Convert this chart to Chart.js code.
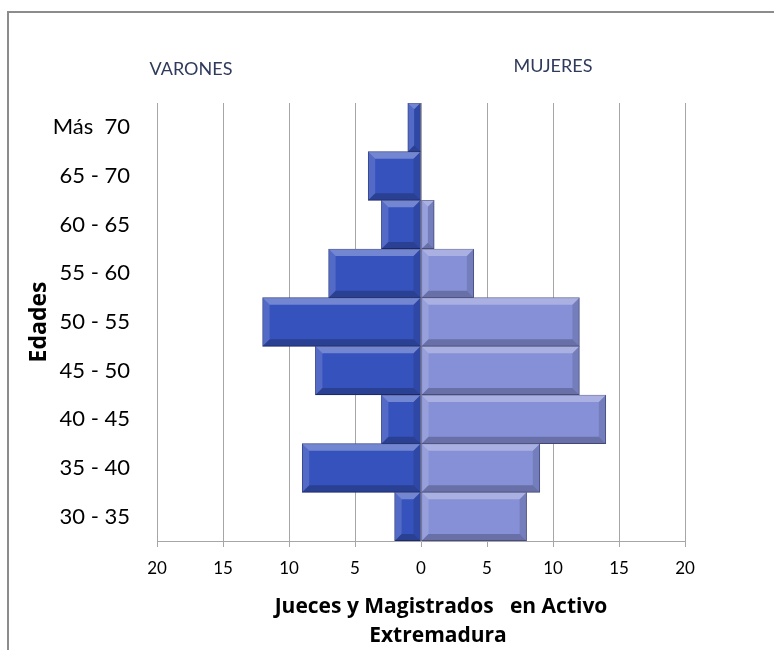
<!DOCTYPE html>
<html>
<head>
<meta charset="utf-8">
<script src="https://cdn.jsdelivr.net/npm/chart.js@4"></script>
<style>
  html, body { margin: 0; padding: 0; background: #fff; }
  #wrap { width: 774px; height: 650px; }
</style>
</head>
<body>
<div id="wrap"><canvas id="pyramid"></canvas></div>
<script>
// age groups, top to bottom
const ageGroups = ['Más  70', '65 - 70', '60 - 65', '55 - 60', '50 - 55', '45 - 50', '40 - 45', '35 - 40', '30 - 35'];
const varones = [1, 4, 3, 7, 12, 8, 3, 9, 2];
const mujeres = [0, 0, 1, 4, 12, 12, 14, 9, 8];
const xTicks = [-20, -15, -10, -5, 0, 5, 10, 15, 20];

document.addEventListener('DOMContentLoaded', function() {
    const ctx = document.getElementById('pyramid').getContext('2d');

    // frame + side labels
    const framePlugin = {
        id: 'frame',
        beforeDraw(chart) {
            const c = chart.ctx;
            c.save();
            c.fillStyle = '#ffffff';
            c.fillRect(0, 0, chart.width, chart.height);
            c.strokeStyle = '#8c8c8c';
            c.lineWidth = 2;
            c.beginPath();
            c.moveTo(8, chart.height);
            c.lineTo(8, 12);
            c.lineTo(chart.width, 12);
            c.stroke();
            c.restore();
        },
        afterDraw(chart) {
            const c = chart.ctx;
            c.save();
            c.fillStyle = '#2f3a5c';
            c.font = '18px Lato';
            c.textAlign = 'center';
            c.textBaseline = 'middle';
            c.fillText('VARONES', 191, 69);
            c.fillText('MUJERES', 553, 66);
            c.fillStyle = '#000000';
            c.font = 'bold 21px "Open Sans"';
            c.fillText('Jueces y Magistrados   en Activo', 441, 607);
            c.fillText('Extremadura', 438, 636);
            c.restore();
        }
    };

    // bevelled look of the bars
    const bevelPlugin = {
        id: 'bevel',
        afterDatasetsDraw(chart) {
            const c = chart.ctx;
            chart.data.datasets.forEach(function(ds, i) {
                chart.getDatasetMeta(i).data.forEach(function(bar) {
                    const p = bar.getProps(['x', 'y', 'base', 'height'], true);
                    const l = Math.min(p.x, p.base), r = Math.max(p.x, p.base);
                    const t = p.y - p.height / 2, b = p.y + p.height / 2;
                    if (r - l < 1) return;
                    const s = Math.min(7, (r - l) / 2);
                    c.save();
                    c.fillStyle = 'rgba(255,255,255,0.30)';
                    c.beginPath();
                    c.moveTo(l, t); c.lineTo(r, t); c.lineTo(r - s, t + s); c.lineTo(l + s, t + s);
                    c.closePath(); c.fill();
                    c.fillStyle = 'rgba(255,255,255,0.15)';
                    c.beginPath();
                    c.moveTo(l, t); c.lineTo(l + s, t + s); c.lineTo(l + s, b - s); c.lineTo(l, b);
                    c.closePath(); c.fill();
                    c.fillStyle = 'rgba(0,0,0,0.22)';
                    c.beginPath();
                    c.moveTo(l, b); c.lineTo(r, b); c.lineTo(r - s, b - s); c.lineTo(l + s, b - s);
                    c.closePath(); c.fill();
                    c.fillStyle = 'rgba(0,0,0,0.12)';
                    c.beginPath();
                    c.moveTo(r, t); c.lineTo(r - s, t + s); c.lineTo(r - s, b - s); c.lineTo(r, b);
                    c.closePath(); c.fill();
                    c.restore();
                });
            });
        }
    };

    new Chart(ctx, {
        type: 'bar',
        data: {
            labels: ageGroups,
            datasets: [{
                label: 'VARONES',
                data: varones.map(v => -v),
                backgroundColor: '#3652bd',
                borderColor: '#1f2d7a',
                borderWidth: 1,
                borderSkipped: false
            }, {
                label: 'MUJERES',
                data: mujeres,
                backgroundColor: '#8690d6',
                borderColor: '#4f5590',
                borderWidth: 1,
                borderSkipped: false
            }]
        },
        options: {
            indexAxis: 'y',
            responsive: true,
            maintainAspectRatio: false,
            animation: false,
            layout: { padding: { top: 103, right: 89, bottom: 0, left: 0 } },
            plugins: {
                legend: { display: false },
                tooltip: { enabled: false }
            },
            datasets: { bar: { barPercentage: 1, categoryPercentage: 1 } },
            scales: {
                x: {
                    stacked: true,
                    min: -20,
                    max: 20,
                    afterBuildTicks: function(axis) {
                        axis.ticks = xTicks.map(v => ({ value: v }));
                    },
                    afterFit: function(axis) { axis.height = 109; },
                    ticks: {
                        color: '#000',
                        font: { family: 'Lato', size: 17 },
                        padding: 11,
                        maxRotation: 0,
                        callback: v => Math.abs(v)
                    },
                    grid: { color: '#a6a6a6', tickLength: 6, lineWidth: 1 },
                    border: { color: '#a6a6a6' }
                },
                y: {
                    stacked: true,
                    afterFit: function(axis) { axis.width = 157; },
                    ticks: {
                        color: '#000',
                        font: { family: 'Lato', size: 22 },
                        padding: 19
                    },
                    grid: { display: false },
                    border: { display: false },
                    title: {
                        display: true,
                        text: 'Edades',
                        color: '#000',
                        font: { family: 'Open Sans', size: 23, weight: 'bold' },
                        padding: { top: 26, bottom: 0 }
                    }
                }
            }
        },
        plugins: [framePlugin, bevelPlugin]
    });
});
</script>
</body>
</html>
